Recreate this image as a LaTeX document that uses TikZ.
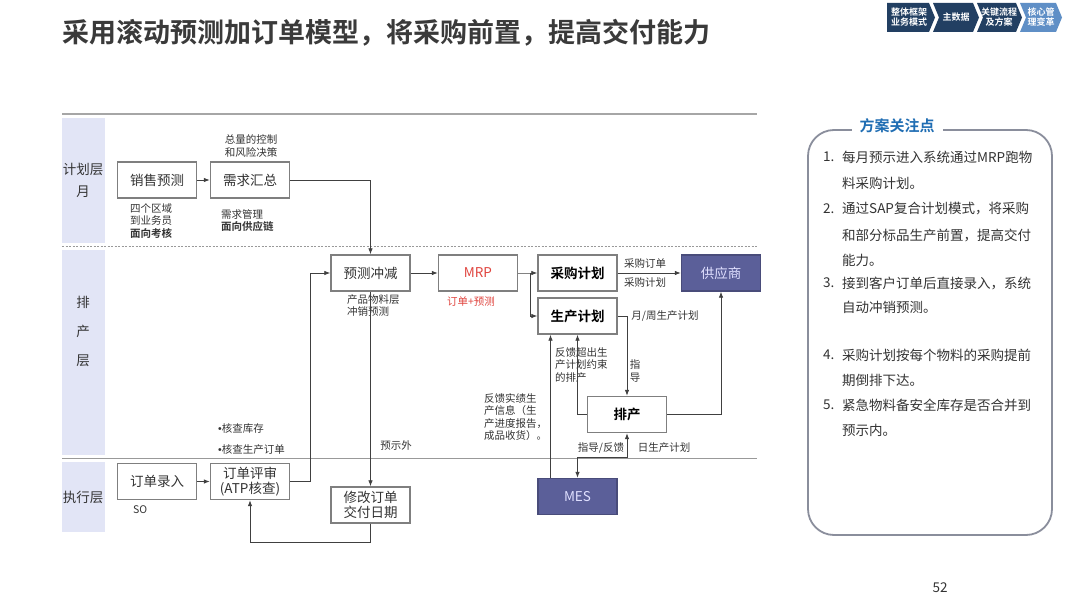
\documentclass[tikz,border=0pt]{standalone}
\usepackage{fontspec}
\setmainfont{Noto Sans CJK SC}
\newfontfamily\cjkb{Noto Sans CJK SC Bold}
\newfontfamily\lat{Liberation Sans}
\usetikzlibrary{arrows.meta,calc}
\definecolor{lanebg}{HTML}{E2E5F6}
\definecolor{navy}{HTML}{223F62}
\definecolor{lightnavy}{HTML}{5F8FC6}
\definecolor{slate}{HTML}{5B5F99}
\definecolor{boxline}{HTML}{7F7F7F}
\definecolor{conn}{HTML}{404040}
\definecolor{txt}{HTML}{333333}
\definecolor{titlec}{HTML}{3A3A3A}
\definecolor{mrpred}{HTML}{E0443E}
\definecolor{panelblue}{HTML}{1F6DB3}
\definecolor{panelline}{HTML}{8A8E9C}
\tikzset{
  box/.style={draw=boxline, line width=1.4pt, fill=white, minimum width=79pt, minimum height=36pt, inner sep=1pt, align=center, font=\fontsize{13.5}{15}\selectfont, text=txt},
  boldbox/.style={box, font=\cjkb\fontsize{13.5}{15}\selectfont, text=black},
  darkbox/.style={box, fill=slate, draw=slate!80!black, text=white!88!blue},
  arr/.style={draw=conn, line width=0.8pt, -{Latex[length=6pt,width=4.5pt]}},
  arrb/.style={draw=conn, line width=0.8pt, {Latex[length=6pt,width=4.5pt]}-{Latex[length=6pt,width=4.5pt]}},
  lbl/.style={font=\fontsize{10.5}{12.5}\selectfont, text=txt, align=left, inner sep=0pt},
  lane/.style={fill=lanebg, draw=none},
  chev/.style={fill=navy, draw=none},
  chevtxt/.style={text=white, font=\cjkb\fontsize{9}{10}\selectfont, align=center, inner sep=0pt},
  item/.style={font=\fontsize{13.5}{15}\selectfont, text=txt, anchor=west, inner sep=0pt}
}
\begin{document}
\begin{tikzpicture}[x=1pt,y=-1pt]
\useasboundingbox (0,0) rectangle (1080,607);
\fill[white] (0,0) rectangle (1080,607);
% title
\node[anchor=west, text=titlec, font=\cjkb\fontsize{27}{30}\selectfont, inner sep=0pt] (title) at (62,33) {采用滚动预测加订单模型，将采购前置，提高交付能力};
% chevrons
\fill[chev] (887,3) -- (929,3) -- (935,17.5) -- (929,32) -- (887,32) -- cycle;
\fill[chev] (933,3) -- (973,3) -- (979,17.5) -- (973,32) -- (933,32) -- (939,17.5) -- cycle;
\fill[chev] (977,3) -- (1016,3) -- (1022,17.5) -- (1016,32) -- (977,32) -- (983,17.5) -- cycle;
\fill[lightnavy] (1020,3) -- (1056,3) -- (1062,17.5) -- (1056,32) -- (1020,32) -- (1026,17.5) -- cycle;
\node[chevtxt] (c1) at (909,17.5) {整体框架\\业务模式};
\node[chevtxt] (c2) at (956,17.5) {主数据};
\node[chevtxt] (c3) at (999,17.5) {关键流程\\及方案};
\node[chevtxt] (c4) at (1041,17.5) {核心管\\理变革};
% lanes
\fill[lane] (62,118) rectangle (105,243);
\fill[lane] (62,250) rectangle (105,455);
\fill[lane] (62,462) rectangle (105,532);
\draw[gray!70, line width=1.6pt] (62,114) -- (757,114);
\draw[gray!80, line width=0.8pt, dashed, dash pattern=on 2pt off 1.5pt] (62,246) -- (757,246);
\draw[gray!80, line width=1pt] (62,458.5) -- (757,458.5);
\node[font=\fontsize{13.5}{22}\selectfont, text=txt, align=center] (l1) at (83,180) {计划层\\月};
\node[font=\fontsize{13.5}{29}\selectfont, text=txt, align=center] (l2) at (83,331) {排\\产\\层};
\node[font=\fontsize{13.5}{15}\selectfont, text=txt] (l3) at (83,497) {执行层};
% nodes
\node[box] (xsyc) at (157,180) {销售预测};
\node[box] (xqhz) at (250,180) {需求汇总};
\node[box] (yccj) at (370.5,273) {预测冲减};
\node[box, text=mrpred] (mrp) at (478,273) {MRP};
\node[boldbox] (cgjh) at (577.5,273) {采购计划};
\node[boldbox] (scjh) at (577.5,316) {生产计划};
\node[darkbox] (gys) at (721,273) {供应商};
\node[boldbox] (pc) at (627,414.5) {排产};
\node[darkbox] (mes) at (577.5,496.5) {MES};
\node[box] (ddlr) at (157,481.5) {订单录入};
\node[box, font=\fontsize{13.5}{15.5}\selectfont] (ddps) at (250,481.5) {订单评审\\(ATP核查)};
\node[box, font=\fontsize{13.5}{15.5}\selectfont] (xgdd) at (370.5,505) {修改订单\\交付日期};
% labels
\node[lbl, align=center] (t1) at (251,146) {总量的控制\\和风险决策};
\node[lbl, anchor=north west] (t2) at (130,203) {四个区域\\到业务员\\{\cjkb 面向考核}};
\node[lbl, anchor=north west] (t3) at (221,209) {需求管理\\{\cjkb 面向供应链}};
\node[lbl, anchor=north west] (t4) at (347,294) {产品物料层\\冲销预测};
\node[lbl, text=mrpred] (t5) at (471,302) {订单+预测};
\node[lbl] (t6) at (645,264) {采购订单};
\node[lbl] (t7) at (645,283) {采购计划};
\node[lbl] (t8) at (665,316.5) {月/周生产计划};
\node[lbl, align=center] (t9) at (635,371) {指\\导};
\node[lbl, anchor=north west] (t10) at (555,347) {反馈超出生\\产计划约束\\的排产};
\node[lbl, anchor=north west] (t11) at (484,393) {反馈实绩生\\产信息（生\\产进度报告，\\成品收货）。};
\node[lbl] (t12) at (601,448) {指导/反馈};
\node[lbl] (t13) at (664,448) {日生产计划};
\node[lbl, anchor=west] (t14) at (218,429) {{\lat •}核查库存};
\node[lbl, anchor=west] (t15) at (218,450) {{\lat •}核查生产订单};
\node[lbl] (t16) at (396,445) {预示外};
\node[lbl, anchor=west] (t17) at (133,510) {SO};
% connectors
\draw[arr] (xsyc) -- (xqhz);
\draw[arr] (xqhz.east) -| (yccj.north);
\draw[arr] (yccj) -- (mrp);
\draw[arr] (mrp.east) -- ++(12,0) coordinate (split) -- (cgjh.west);
\draw[arr] (split) |- (scjh.west);
\draw[arr] (cgjh) -- (gys);
\draw[arr] (scjh.east) -| (pc.north);
\draw[arr] (pc.east) -| (gys.south);
\draw[arr] (pc.west) -| (scjh.south);
\draw[arr] ([xshift=-27pt]mes.north) -- ([xshift=-27pt]scjh.south);
\draw[arrb] (mes.north) -- ++(0,-20) -| (pc.south);
\draw[arr] (ddlr) -- (ddps);
\draw[arr] (ddps.east) -- ++(20,0) |- (yccj.west);
\draw[arr] (yccj.south) -- (xgdd.north);
\draw[arr] (xgdd.south) -- ++(0,19) -| (ddps.south);
% right panel
\draw[panelline, line width=1.8pt, rounded corners=26pt] (808,130) rectangle (1052,535);
\node[fill=white, inner xsep=8pt, inner ysep=2pt, text=panelblue, font=\cjkb\fontsize{15}{17}\selectfont] (ptitle) at (897,126) {方案关注点};
\node[item] (n1) at (823,157) {1.};
\node[item] (p1a) at (842,157) {每月预示进入系统通过MRP跑物};
\node[item] (p1b) at (842,183) {料采购计划。};
\node[item] (n2) at (823,209) {2.};
\node[item] (p2a) at (842,209) {通过SAP复合计划模式，将采购};
\node[item] (p2b) at (842,235) {和部分标品生产前置，提高交付};
\node[item] (p2c) at (842,260) {能力。};
\node[item] (n3) at (823,283) {3.};
\node[item] (p3a) at (842,283) {接到客户订单后直接录入，系统};
\node[item] (p3b) at (842,307) {自动冲销预测。};
\node[item] (n4) at (823,355) {4.};
\node[item] (p4a) at (842,355) {采购计划按每个物料的采购提前};
\node[item] (p4b) at (842,380) {期倒排下达。};
\node[item] (n5) at (823,405) {5.};
\node[item] (p5a) at (842,405) {紧急物料备安全库存是否合并到};
\node[item] (p5b) at (842,430) {预示内。};
% page number
\node[font=\fontsize{13.5}{15}\selectfont, text=txt] (pg) at (940,588) {52};
\end{tikzpicture}
\end{document}
